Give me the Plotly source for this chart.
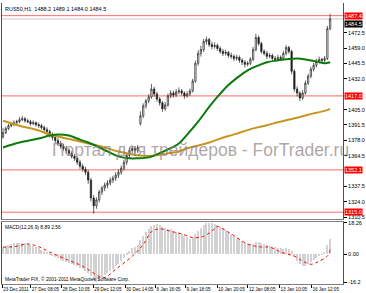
import plotly.graph_objects as go

# ---------------- data ----------------
bar_idx = list(range(120))

opens = [1381.0, 1384.8, 1388.3, 1390.9, 1391.8, 1393.5, 1394.4, 1396.1, 1397.0, 1395.2,
         1394.4, 1392.6, 1393.5, 1391.8, 1390.9, 1389.2, 1387.4, 1385.7, 1383.1, 1380.5,
         1377.9, 1375.3, 1372.7, 1370.9, 1369.2, 1366.6, 1364.0, 1362.3, 1358.8, 1355.3,
         1352.7, 1350.1, 1343.2, 1327.5, 1320.6, 1325.8, 1332.7, 1336.2, 1338.8, 1340.6,
         1343.2, 1344.9, 1347.5, 1350.1, 1353.6, 1358.8, 1364.9, 1369.2, 1370.9, 1369.2,
         1392.6, 1399.6, 1408.3, 1412.6, 1416.1, 1423.0, 1418.7, 1414.3, 1410.9, 1405.7,
         1409.1, 1417.0, 1419.5, 1417.8, 1420.4, 1421.3, 1419.5, 1417.0, 1418.7, 1421.3,
         1430.0, 1445.6, 1454.3, 1457.7, 1464.7, 1466.4, 1462.1, 1460.3, 1461.2, 1458.6,
         1456.0, 1454.3, 1455.1, 1452.5, 1451.7, 1449.9, 1450.8, 1448.2, 1446.5, 1444.7,
         1445.6, 1449.1, 1457.7, 1468.2, 1462.9, 1456.0, 1454.3, 1451.7, 1452.5, 1449.9,
         1449.1, 1450.8, 1449.9, 1454.3, 1459.5, 1456.0, 1438.6, 1423.0, 1419.5, 1415.2,
         1419.5, 1428.2, 1434.3, 1440.4, 1443.9, 1447.3, 1449.1, 1448.2, 1449.9, 1476.0]

highs = [1389.0, 1390.0, 1392.5, 1394.0, 1395.5, 1396.0, 1398.5, 1399.5, 1398.5, 1397.0,
         1396.0, 1395.5, 1394.5, 1393.5, 1392.5, 1391.0, 1389.5, 1387.5, 1385.0, 1382.5,
         1380.0, 1377.5, 1375.0, 1373.0, 1371.0, 1368.5, 1366.0, 1364.0, 1361.0, 1357.5,
         1355.0, 1352.0, 1345.0, 1330.0, 1328.0, 1334.5, 1338.0, 1341.0, 1343.0, 1345.5,
         1347.0, 1350.0, 1352.5, 1356.0, 1361.0, 1367.0, 1371.5, 1373.5, 1373.0, 1374.0,
         1403.5, 1410.5, 1414.5, 1418.5, 1427.5, 1425.0, 1420.5, 1416.0, 1412.5, 1411.5,
         1419.0, 1422.0, 1421.5, 1423.0, 1424.5, 1423.0, 1421.0, 1421.0, 1423.5, 1432.0,
         1448.0, 1457.0, 1461.0, 1467.0, 1469.0, 1468.0, 1464.5, 1464.0, 1463.0, 1460.5,
         1458.0, 1457.5, 1456.5, 1455.0, 1453.5, 1453.0, 1452.5, 1450.0, 1448.5, 1447.5,
         1451.0, 1460.0, 1471.5, 1470.0, 1464.5, 1458.0, 1456.5, 1454.5, 1454.0, 1452.0,
         1453.0, 1452.5, 1456.5, 1461.5, 1461.0, 1457.5, 1440.5, 1425.5, 1421.0, 1422.0,
         1430.5, 1436.5, 1442.5, 1446.0, 1449.5, 1451.5, 1450.5, 1452.0, 1478.5, 1489.1]

lows = [1379.5, 1383.5, 1387.0, 1389.5, 1390.5, 1392.0, 1393.0, 1395.0, 1393.5, 1393.0,
        1391.0, 1391.5, 1390.0, 1389.0, 1387.5, 1385.5, 1383.5, 1380.5, 1378.0, 1375.5,
        1373.0, 1370.5, 1369.0, 1367.0, 1364.5, 1362.0, 1360.0, 1356.5, 1353.0, 1350.5,
        1347.5, 1340.0, 1324.5, 1313.5, 1318.0, 1323.5, 1330.0, 1333.5, 1336.0, 1338.5,
        1340.5, 1342.5, 1345.0, 1348.0, 1351.5, 1356.5, 1362.5, 1366.5, 1366.5, 1367.0,
        1391.0, 1397.5, 1406.0, 1410.5, 1414.5, 1416.5, 1412.0, 1408.5, 1403.0, 1404.0,
        1407.5, 1415.0, 1415.5, 1416.0, 1418.5, 1417.5, 1414.5, 1415.5, 1417.0, 1420.0,
        1428.5, 1443.5, 1451.5, 1455.5, 1462.0, 1460.0, 1458.0, 1458.5, 1456.5, 1454.0,
        1452.0, 1452.5, 1450.5, 1449.5, 1447.5, 1448.0, 1446.0, 1444.0, 1442.0, 1443.0,
        1444.0, 1447.5, 1456.0, 1461.0, 1454.0, 1452.5, 1449.5, 1450.0, 1448.0, 1447.0,
        1447.5, 1448.0, 1448.5, 1452.5, 1454.0, 1436.0, 1420.5, 1416.5, 1412.5, 1413.5,
        1418.0, 1426.5, 1432.5, 1438.5, 1442.0, 1445.5, 1446.5, 1446.5, 1448.5, 1474.5]

closes = [1384.8, 1388.3, 1390.9, 1391.8, 1393.5, 1394.4, 1396.1, 1397.0, 1395.2, 1394.4,
          1392.6, 1393.5, 1391.8, 1390.9, 1389.2, 1387.4, 1385.7, 1383.1, 1380.5, 1377.9,
          1375.3, 1372.7, 1370.9, 1369.2, 1366.6, 1364.0, 1362.3, 1358.8, 1355.3, 1352.7,
          1350.1, 1343.2, 1327.5, 1320.6, 1325.8, 1332.7, 1336.2, 1338.8, 1340.6, 1343.2,
          1344.9, 1347.5, 1350.1, 1353.6, 1358.8, 1364.9, 1369.2, 1370.9, 1369.2, 1371.8,
          1399.6, 1408.3, 1412.6, 1416.1, 1423.0, 1418.7, 1414.3, 1410.9, 1405.7, 1409.1,
          1417.0, 1419.5, 1417.8, 1420.4, 1421.3, 1419.5, 1417.0, 1418.7, 1421.3, 1430.0,
          1445.6, 1454.3, 1457.7, 1464.7, 1466.4, 1462.1, 1460.3, 1461.2, 1458.6, 1456.0,
          1454.3, 1455.1, 1452.5, 1451.7, 1449.9, 1450.8, 1448.2, 1446.5, 1444.7, 1445.6,
          1449.1, 1457.7, 1468.2, 1462.9, 1456.0, 1454.3, 1451.7, 1452.5, 1449.9, 1449.1,
          1450.8, 1449.9, 1454.3, 1459.5, 1456.0, 1438.6, 1423.0, 1419.5, 1415.2, 1419.5,
          1428.2, 1434.3, 1440.4, 1443.9, 1447.3, 1449.1, 1448.2, 1449.9, 1476.0, 1484.5]

ma_idx = [0, 6, 13, 17, 20, 24, 28, 31, 35, 38, 42, 46, 49, 53, 56, 60, 64, 67, 71, 75,
          78, 82, 85, 89, 93, 96, 100, 103, 107, 111, 114, 117, 119]
ma_fast = [1371.8, 1376.1, 1379.6, 1382.2, 1383.1, 1382.2, 1378.7, 1376.1, 1371.8, 1368.3,
           1364.0, 1362.3, 1362.3, 1363.1, 1365.7, 1370.1, 1375.3, 1383.1, 1394.4, 1407.4,
           1416.1, 1426.5, 1432.6, 1439.5, 1443.8, 1446.5, 1448.2, 1449.1, 1449.9, 1448.6,
           1447.3, 1445.6, 1446.5]
ma_slow = [1395.2, 1390.9, 1386.6, 1383.1, 1381.4, 1379.2, 1377.0, 1375.3, 1373.1, 1371.0,
           1368.3, 1366.2, 1364.9, 1364.4, 1364.9, 1366.6, 1368.3, 1371.0, 1373.5, 1376.1,
           1378.7, 1381.8, 1383.9, 1387.0, 1389.6, 1391.3, 1393.9, 1395.7, 1397.8, 1400.4,
           1402.2, 1403.9, 1405.7]

macd_hist = [4.5, 5.0, 5.6, 6.0, 6.4, 6.6, 6.8, 6.9, 6.5, 6.0,
             5.4, 5.0, 4.3, 3.6, 2.8, 2.0, 1.2, 0.3, -0.6, -1.5,
             -2.3, -3.0, -3.6, -4.2, -4.8, -5.5, -6.1, -6.9, -7.8, -8.6,
             -9.4, -10.6, -12.8, -15.0, -15.8, -15.2, -13.6, -12.0, -10.8, -9.5,
             -8.2, -6.8, -5.3, -3.7, -1.8, 0.3, 2.2, 3.6, 4.5, 5.3,
             8.2, 11.0, 13.0, 14.8, 16.6, 17.3, 17.5, 17.1, 16.0, 15.2,
             15.0, 14.6, 13.9, 13.2, 12.5, 11.7, 10.8, 9.9, 9.2, 9.8,
             11.8, 13.9, 15.6, 17.3, 18.1, 18.26, 18.0, 17.6, 17.0, 16.1,
             15.1, 14.1, 13.0, 11.9, 10.8, 9.8, 8.7, 7.6, 6.6, 5.9,
             5.8, 6.3, 7.3, 7.2, 6.6, 6.0, 5.4, 5.0, 4.5, 4.1,
             3.8, 3.5, 3.4, 3.6, 3.3, 1.8, -1.2, -3.6, -5.8, -6.9,
             -6.6, -5.8, -4.6, -3.4, -2.1, -0.9, 0.2, 1.3, 5.5, 8.89]

sig_idx = [0, 4, 9, 13, 17, 23, 29, 35, 37, 41, 47, 51, 54, 57, 61, 65, 69, 73, 77, 78,
           83, 89, 94, 97, 101, 106, 109, 112, 115, 118, 119]
macd_signal = [4.1, 4.3, 5.9, 4.3, 1.2, -3.0, -7.0, -13.0, -13.6, -8.8, -1.2, 5.5, 13.0, 14.7,
               13.2, 11.8, 9.6, 10.4, 14.7, 16.0, 11.8, 5.9, 4.1, 4.1, 1.2, -1.2, -4.0, -5.9,
               -4.1, -1.2, 2.56]

level_lines = [1487.4, 1417.0, 1352.1, 1315.0]
bid_price = 1484.5

price_ticks = [1472.5, 1459.0, 1445.5, 1432.0, 1405.0, 1391.5, 1378.0, 1364.5, 1337.5, 1324.0, 1310.5]
macd_ticks = [18.26, 0.0, -16.2]
macd_tick_text = ["18.26", "0.00", "-16.2"]
time_labels = ["23 Dec 2011", "27 Dec 08:05", "28 Dec 10:05", "29 Dec 12:05", "30 Dec 14:05",
               "6 Jan 16:05", "9 Jan 18:05", "10 Jan 20:05", "12 Jan 08:05", "13 Jan 10:05",
               "16 Jan 12:05"]
time_label_idx = [-0.3, 10.1, 21.3, 32.8, 44.4, 55.5, 66.4, 77.9, 89.1, 100.6, 112.2]

title_text = "RUS50,H1  1488.2 1489.1 1484.0 1484.5"
macd_text = "MACD(12,26,9) 8.89 2.56"
copyright_text = "MetaTrader FIX, © 2001-2011 MetaQuotes Software Corp."
watermark = "Портал для трейдеров - ForTrader.ru"

# ---------------- figure ----------------
FONT = "Liberation Sans"
SMALL = 5.5
TINY = 4.6
XR = [-0.36, 123.69]

fig = go.Figure()

fig.add_trace(go.Candlestick(
    x=bar_idx, open=opens, high=highs, low=lows, close=closes,
    increasing=dict(line=dict(color="#202020", width=0.7), fillcolor="white"),
    decreasing=dict(line=dict(color="#202020", width=0.7), fillcolor="#202020"),
    whiskerwidth=0, xaxis="x", yaxis="y", hoverinfo="skip"))

fig.add_trace(go.Scatter(x=ma_idx, y=ma_slow, mode="lines", line=dict(color="#c8961e", width=2, shape="spline"),
                         xaxis="x", yaxis="y", hoverinfo="skip"))
fig.add_trace(go.Scatter(x=ma_idx, y=ma_fast, mode="lines", line=dict(color="#0a7a0a", width=2, shape="spline"),
                         xaxis="x", yaxis="y", hoverinfo="skip"))

fig.add_trace(go.Bar(x=bar_idx, y=macd_hist, marker=dict(color="#d2d2d2", line=dict(width=0)), width=0.45,
                     xaxis="x2", yaxis="y2", hoverinfo="skip"))
fig.add_trace(go.Scatter(x=sig_idx, y=macd_signal, mode="lines",
                         line=dict(color="red", width=1, dash="dot", shape="spline"),
                         xaxis="x2", yaxis="y2", hoverinfo="skip"))

shapes = []
for lv in level_lines:
    shapes.append(dict(type="line", xref="x domain", x0=0, x1=1, yref="y", y0=lv, y1=lv,
                       line=dict(color="rgba(255,40,40,0.7)", width=1), layer="below"))
shapes.append(dict(type="line", xref="x domain", x0=0, x1=1, yref="y", y0=bid_price, y1=bid_price,
                   line=dict(color="#c8c8c8", width=1), layer="below"))

annotations = []
for lv in level_lines:
    annotations.append(dict(xref="paper", x=1.003, xanchor="left", yref="y", y=lv, yanchor="middle",
                            text=f"{lv:.1f}", showarrow=False, bgcolor="red", borderpad=0,
                            font=dict(family=FONT, size=SMALL, color="white")))
annotations.append(dict(xref="paper", x=1.003, xanchor="left", yref="y", y=bid_price, yanchor="top",
                        yshift=-1, text=f"{bid_price:.1f}", showarrow=False, bgcolor="black", borderpad=0,
                        font=dict(family=FONT, size=SMALL, color="white")))
annotations.append(dict(xref="x domain", x=0.004, xanchor="left", yref="y domain", y=1, yanchor="top",
                        yshift=-1, text=title_text, showarrow=False,
                        font=dict(family=FONT, size=SMALL, color="black")))
annotations.append(dict(xref="x2 domain", x=0.004, xanchor="left", yref="y2 domain", y=1, yanchor="top",
                        yshift=-1, text=macd_text, showarrow=False,
                        font=dict(family=FONT, size=4.9, color="black")))
annotations.append(dict(xref="x2 domain", x=0.004, xanchor="left", yref="y2 domain", y=0, yanchor="bottom",
                        yshift=0, text=copyright_text, showarrow=False,
                        font=dict(family=FONT, size=4.8, color="black")))
annotations.append(dict(xref="x domain", x=0.14, xanchor="left", yref="y", y=1370.0, yanchor="middle",
                        text=watermark, showarrow=False,
                        font=dict(family=FONT, size=17.5, color="rgba(140,128,128,0.7)")))

fig.update_layout(
    width=366, height=293,
    margin=dict(l=2, r=20, t=1, b=8),
    paper_bgcolor="white", plot_bgcolor="white",
    showlegend=False, bargap=0,
    font=dict(family=FONT, size=SMALL, color="black"),
    shapes=shapes, annotations=annotations,
    xaxis=dict(domain=[0, 1], range=XR, anchor="y", showticklabels=False, ticks="",
               showgrid=False, zeroline=False, showline=True, linecolor="#808080", linewidth=1,
               rangeslider=dict(visible=False), fixedrange=True),
    yaxis=dict(domain=[0.2324, 1], range=[1309.3, 1498.5], side="right",
               tickvals=price_ticks, ticktext=[f"{v:.1f}" for v in price_ticks],
               ticks="outside", ticklen=3, tickcolor="black", tickfont=dict(family=FONT, size=SMALL),
               showgrid=False, zeroline=False, showline=True, mirror=True, linecolor="#505050", linewidth=1),
    xaxis2=dict(domain=[0, 1], range=XR, anchor="y2", tickvals=time_label_idx, ticktext=time_labels,
                tickangle=0, ticks="outside", ticklen=3, tickcolor="black", ticklabelposition="outside right",
                tickfont=dict(family=FONT, size=TINY), showgrid=False, zeroline=False,
                showline=True, mirror=True, linecolor="#808080", linewidth=1),
    yaxis2=dict(domain=[0, 0.2218], range=[-17.35, 18.84], side="right",
                tickvals=macd_ticks, ticktext=macd_tick_text,
                ticks="outside", ticklen=3, tickcolor="black", tickfont=dict(family=FONT, size=SMALL),
                showgrid=False, zeroline=False, showline=True, mirror=True, linecolor="#505050", linewidth=1),
)

fig.write_html("out.html")
